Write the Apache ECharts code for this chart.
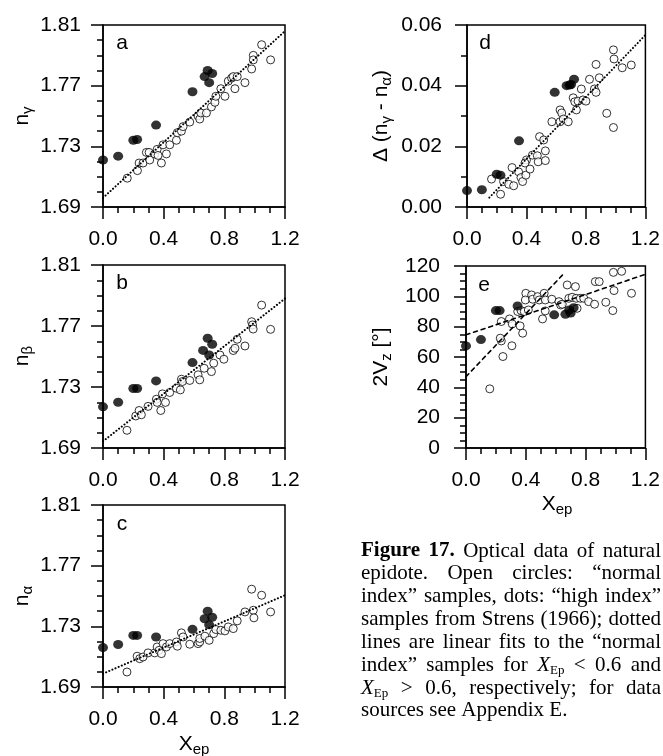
<!DOCTYPE html>
<html><head><meta charset="utf-8">
<script src="https://cdn.jsdelivr.net/npm/echarts@6/dist/echarts.min.js"></script>
<style>html,body{margin:0;padding:0;background:#fff}#c{width:663px;height:756px}</style>
</head><body><div id="c"></div>
<script>
// ---------------- data ----------------
const BASE = 1.69; // bottom of the refractive-index axes (a-c)
const xTickLabels = ['0.0', '0.4', '0.8', '1.2'];

// panel a: n_gamma
const openA = [[0.16,1.709],[0.227,1.714],[0.238,1.719],[0.264,1.719],[0.286,1.726],[0.308,1.721],[0.304,1.726],[0.341,1.725],[0.357,1.728],[0.363,1.724],[0.385,1.719],[0.396,1.731],[0.418,1.725],[0.44,1.731],[0.484,1.734],[0.49,1.739],[0.517,1.740],[0.528,1.743],[0.572,1.746],[0.627,1.750],[0.638,1.748],[0.645,1.752],[0.682,1.752],[0.715,1.756],[0.738,1.759],[0.744,1.763],[0.777,1.768],[0.804,1.763],[0.826,1.773],[0.848,1.775],[0.859,1.776],[0.87,1.768],[0.885,1.776],[0.936,1.772],[0.98,1.781],[0.991,1.790],[0.991,1.787],[1.046,1.797],[1.105,1.787]];
const hiA = [[0,1.721],[0.1,1.7235],[0.2,1.734],[0.225,1.7345],[0.35,1.744],[0.59,1.766],[0.67,1.776],[0.69,1.780],[0.70,1.772],[0.72,1.778]];
const fitA = [[0,1.696],[1.2,1.806]];

// panel b: n_beta
const openB = [[0.158,1.7016],[0.216,1.711],[0.238,1.7146],[0.253,1.7118],[0.297,1.7173],[0.352,1.722],[0.357,1.7199],[0.381,1.7146],[0.392,1.7255],[0.412,1.7199],[0.44,1.7264],[0.484,1.7292],[0.517,1.7351],[0.524,1.7336],[0.51,1.7281],[0.572,1.7343],[0.627,1.738],[0.638,1.7347],[0.667,1.7423],[0.715,1.7401],[0.73,1.7456],[0.771,1.751],[0.797,1.7482],[0.859,1.7539],[0.87,1.7554],[0.885,1.7613],[0.936,1.7569],[0.98,1.7728],[0.986,1.7707],[0.99,1.768],[1.046,1.7837],[1.105,1.7678]];
const hiB = [[0,1.717],[0.1,1.720],[0.2,1.729],[0.225,1.729],[0.35,1.734],[0.59,1.746],[0.66,1.754],[0.69,1.762],[0.70,1.751],[0.72,1.758]];
const fitB = [[0,1.6944],[1.2,1.788]];

// panel c: n_alpha
const openC = [[0.158,1.6999],[0.225,1.7103],[0.242,1.7087],[0.264,1.7098],[0.297,1.7125],[0.341,1.7125],[0.357,1.7164],[0.37,1.7142],[0.385,1.712],[0.396,1.7186],[0.418,1.7164],[0.44,1.7186],[0.484,1.7197],[0.49,1.7169],[0.517,1.7257],[0.528,1.723],[0.572,1.7182],[0.627,1.7186],[0.638,1.7197],[0.638,1.722],[0.672,1.7235],[0.70,1.7208],[0.73,1.7252],[0.744,1.7279],[0.777,1.7274],[0.804,1.727],[0.826,1.7296],[0.859,1.7285],[0.885,1.7336],[0.936,1.7395],[0.98,1.7545],[0.991,1.7406],[0.995,1.7356],[1.046,1.7505],[1.105,1.7395]];
const hiC = [[0,1.716],[0.1,1.718],[0.2,1.724],[0.225,1.724],[0.35,1.723],[0.59,1.728],[0.67,1.735],[0.69,1.740],[0.70,1.731],[0.72,1.736]];
const fitC = [[0,1.6988],[1.2,1.7505]];

// panel d: birefringence
const openD = [[0.165,0.0092],[0.226,0.0042],[0.246,0.0084],[0.281,0.0075],[0.314,0.0070],[0.303,0.0130],[0.347,0.0116],[0.363,0.0097],[0.374,0.0084],[0.396,0.0105],[0.40,0.0155],[0.39,0.0145],[0.424,0.0125],[0.44,0.0171],[0.473,0.0169],[0.479,0.0149],[0.488,0.0232],[0.516,0.0221],[0.527,0.0185],[0.527,0.0153],[0.571,0.0281],[0.626,0.0320],[0.626,0.0281],[0.637,0.031],[0.648,0.029],[0.681,0.0281],[0.714,0.036],[0.725,0.0347],[0.736,0.0320],[0.747,0.0349],[0.769,0.0389],[0.78,0.0353],[0.80,0.0349],[0.824,0.0421],[0.857,0.0389],[0.868,0.0378],[0.868,0.047],[0.89,0.0426],[0.94,0.0309],[0.985,0.0518],[0.989,0.0488],[0.985,0.0262],[1.044,0.0459],[1.105,0.0468]];
const hiD = [[0,0.0054],[0.1,0.0057],[0.2,0.0108],[0.225,0.0105],[0.35,0.0218],[0.59,0.0378],[0.67,0.0400],[0.69,0.0402],[0.70,0.0404],[0.72,0.0421]];
const fitD = [[0.15,0.0031],[1.2,0.0567]];

// panel e: 2Vz
const openE = [[0.159,39],[0.236,70.6],[0.229,72.4],[0.247,60.3],[0.236,83.4],[0.291,85.1],[0.309,81.8],[0.307,67.4],[0.362,80.5],[0.379,75.7],[0.346,90],[0.368,90.6],[0.39,90],[0.40,102],[0.397,97.6],[0.417,91],[0.439,100.9],[0.446,98.1],[0.479,99.8],[0.49,97.6],[0.512,85.1],[0.523,102],[0.53,97.6],[0.53,90.4],[0.574,98.1],[0.622,96.5],[0.633,94.3],[0.644,94.8],[0.677,107.5],[0.688,98.7],[0.71,99.4],[0.732,106.4],[0.737,98.7],[0.743,92.1],[0.765,98.7],[0.788,98.7],[0.82,96.5],[0.865,109.7],[0.891,109.7],[0.86,94.8],[0.935,96.1],[0.986,115.8],[0.99,103.8],[0.982,90.6],[1.041,116.5],[1.107,102]];
const hiE = [[0,67.3],[0.1,71.5],[0.2,90.6],[0.225,90.6],[0.345,93.6],[0.59,87.8],[0.665,88.2],[0.69,91],[0.70,89],[0.72,92.5]];
const fitE1 = [[0,47],[0.645,114]];
const fitE2 = [[0,74.6],[1.2,114.5]];

// ---------------- chart ----------------
const SANS = '"Liberation Sans", Arial, Helvetica, sans-serif';
const SERIF = '"Liberation Serif", "Times New Roman", serif';
const FS = 21;
const AX = {color:'#000', width:1.5};

const grids = [
  {left:103, top:25, width:182, height:182},
  {left:103, top:265, width:182, height:183},
  {left:103, top:505, width:182, height:182},
  {left:467, top:25, width:181, height:182},
  {left:466, top:266, width:181, height:182}
].map(g => Object.assign(g, {show:true, borderColor:'#000', borderWidth:1.5, backgroundColor:'transparent'}));

function xAx(gi){
  return {gridIndex:gi, type:'value', min:0, max:1.2, interval:0.4,
    axisLine:{onZero:false, lineStyle:AX},
    axisTick:{length:12, lineStyle:AX},
    minorTick:{show:true, splitNumber:4, length:6, lineStyle:AX},
    splitLine:{show:false},
    axisLabel:{margin:22, color:'#000', fontSize:FS, fontFamily:SANS,
      formatter: v => xTickLabels[Math.round(v/0.4)]}};
}
function yAx(gi, o){
  return Object.assign({gridIndex:gi, type:'value',
    axisLine:{onZero:false, lineStyle:AX},
    axisTick:{length:12, lineStyle:AX},
    splitLine:{show:false}}, o);
}
const lbl = (m, f) => ({margin:m, color:'#000', fontSize:FS, fontFamily:SANS, formatter:f});

const xAxis = [0,1,2,3,4].map(xAx);
const yAxis = [
  yAx(0, {min:0, max:0.12, interval:0.04, minorTick:{show:true, splitNumber:4, length:6, lineStyle:AX}, axisLabel:lbl(22, v => (v+BASE).toFixed(2))}),
  yAx(1, {min:0, max:0.12, interval:0.04, minorTick:{show:true, splitNumber:4, length:6, lineStyle:AX}, axisLabel:lbl(22, v => (v+BASE).toFixed(2))}),
  yAx(2, {min:0, max:0.12, interval:0.04, minorTick:{show:true, splitNumber:4, length:6, lineStyle:AX}, axisLabel:lbl(22, v => (v+BASE).toFixed(2))}),
  yAx(3, {min:0, max:0.06, interval:0.02, minorTick:{show:true, splitNumber:2, length:6, lineStyle:AX}, axisLabel:lbl(25, v => v.toFixed(2))}),
  yAx(4, {min:0, max:120, interval:20, minorTick:{show:true, splitNumber:4, length:6, lineStyle:AX}, axisLabel:lbl(26, v => String(v))})
];

const shift = arr => arr.map(p => [p[0], p[1]-BASE]);
function openS(gi, d){ return {type:'scatter', xAxisIndex:gi, yAxisIndex:gi, data:d, symbol:'circle', symbolSize:8, clip:false, z:2,
  itemStyle:{color:'#fff', borderColor:'#000', borderWidth:1}}; }
function hiS(gi, d){ return {type:'scatter', xAxisIndex:gi, yAxisIndex:gi, data:d, symbol:'circle', symbolSize:[10,9], clip:false, z:3,
  itemStyle:{color:'#000'}}; }
function fitS(gi, d, dash, w){ return {type:'line', xAxisIndex:gi, yAxisIndex:gi, data:d, symbol:'none', z:4,
  lineStyle:{color:'#000', width:w, type:dash, cap:'round'}}; }
const DOT = [0.1, 3.3];
const DASH = [4, 4];

const series = [
  openS(0, shift(openA)), hiS(0, shift(hiA)), fitS(0, shift(fitA), DOT, 2),
  openS(1, shift(openB)), hiS(1, shift(hiB)), fitS(1, shift(fitB), DOT, 2),
  openS(2, shift(openC)), hiS(2, shift(hiC)), fitS(2, shift(fitC), DOT, 2),
  openS(3, openD), hiS(3, hiD), fitS(3, fitD, DOT, 2),
  openS(4, openE), hiS(4, hiE), fitS(4, fitE1, DASH, 1.6), fitS(4, fitE2, DASH, 1.6)
];

// ---------- texts ----------
const richBase = {
  m:{fontSize:FS, fontFamily:SANS, fill:'#000', color:'#000'},
  s:{fontSize:15, fontFamily:SANS, color:'#000', padding:[11,0,0,0]}
};
function vName(x, y, text){
  return {type:'text', x:x, y:y, rotation:Math.PI/2,
    style:{text:text, rich:richBase, textAlign:'center', textVerticalAlign:'middle', fill:'#000', font:FS+'px '+SANS}};
}
function hName(x, y, text){
  return {type:'text', x:x, y:y,
    style:{text:text, rich:richBase, textAlign:'center', textVerticalAlign:'middle', fill:'#000', font:FS+'px '+SANS}};
}
function letter(x, y, t){
  return {type:'text', x:x, y:y, style:{text:t, font:FS+'px '+SANS, fill:'#000', textAlign:'center', textVerticalAlign:'middle'}};
}
const graphic = [
  vName(22, 116, '{m|n}{s|γ}'),
  vName(22, 356, '{m|n}{s|β}'),
  vName(22, 596, '{m|n}{s|α}'),
  vName(381, 116, '{m|Δ (n}{s|γ}{m| - n}{s|α}{m|)}'),
  vName(381, 357, '{m|2V}{s|z}{m| [°]}'),
  hName(194, 744, '{m|X}{s|ep}'),
  hName(557, 504, '{m|X}{s|ep}'),
  letter(122, 43, 'a'), letter(122, 283, 'b'), letter(122, 524, 'c'),
  letter(485, 43, 'd'), letter(484, 285, 'e')
];

// ---------- caption (justified) ----------
const capLines = [
  '*Figure *17. Optical data of natural',
  'epidote. Open circles: “normal',
  'index” samples, dots: “high index”',
  'samples from Strens (1966); dotted',
  'lines are linear fits to the “normal',
  'index” samples for X_Ep < 0.6 and',
  'X_Ep > 0.6, respectively; for data',
  'sources see Appendix E.'
];
const CAP_L = 361, CAP_R = 661, CAP_Y0 = 551, CAP_DY = 22.85, CAP_FS = 21, SUB_FS = 13;
const capFont = {
  r: CAP_FS+'px '+SERIF,
  b: 'bold '+CAP_FS+'px '+SERIF,
  i: 'italic '+CAP_FS+'px '+SERIF,
  sub: SUB_FS+'px '+SERIF
};
const cv = document.createElement('canvas').getContext('2d');
function meas(t, st){ cv.font = capFont[st]; return cv.measureText(t).width; }
function wordSegs(w){
  if (w.startsWith('*')) return [[w.slice(1),'b']];
  if (w === 'X_Ep') return [['X','i'],['Ep','sub']];
  return [[w,'r']];
}
capLines.forEach((line, li) => {
  const words = line.split(' ').map(wordSegs);
  const widths = words.map(segs => segs.reduce((s,g) => s + meas(g[0], g[1]), 0));
  const total = widths.reduce((a,b) => a+b, 0);
  const last = li === capLines.length - 1;
  const gap = last ? meas(' ', 'r') : (CAP_R - CAP_L - total) / (words.length - 1);
  let x = CAP_L;
  const y = CAP_Y0 + li * CAP_DY;
  words.forEach((segs, wi) => {
    let sx = x;
    segs.forEach(g => {
      graphic.push({type:'text', x:sx, y: g[1]==='sub' ? y+5 : y,
        style:{text:g[0], font:capFont[g[1]], fill:'#000', textAlign:'left', textVerticalAlign:'middle'}});
      sx += meas(g[0], g[1]);
    });
    x += widths[wi] + gap;
  });
});

const chart = echarts.init(document.getElementById('c'), null, {renderer:'canvas'});
chart.setOption({animation:false, backgroundColor:'#fff', grid:grids, xAxis:xAxis, yAxis:yAxis, series:series, graphic:graphic});
</script></body></html>
